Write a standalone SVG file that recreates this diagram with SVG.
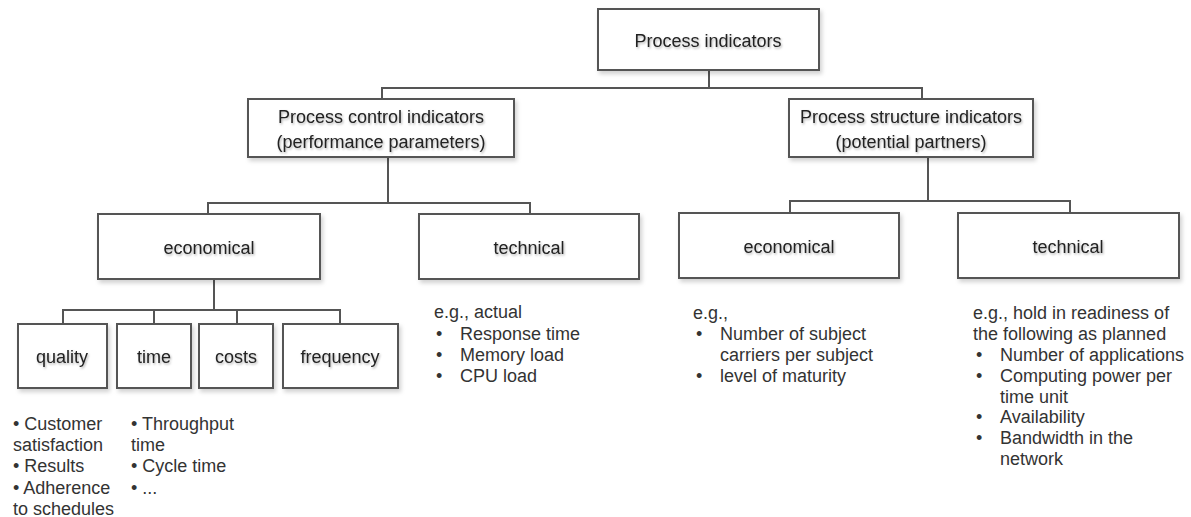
<svg xmlns="http://www.w3.org/2000/svg" width="1191" height="517" viewBox="0 0 1191 517">
  <defs>
    <filter id="boxShadow" x="-10%" y="-10%" width="125%" height="135%">
      <feDropShadow dx="2" dy="3" stdDeviation="2" flood-color="#000" flood-opacity="0.18"/>
    </filter>
    <filter id="textShadow" x="-5%" y="-20%" width="110%" height="150%">
      <feDropShadow dx="1" dy="1.5" stdDeviation="1" flood-color="#000" flood-opacity="0.3"/>
    </filter>
  </defs>
  <style>
    .box { fill: #ffffff; stroke: #555555; stroke-width: 2; filter: url(#boxShadow); }
    .label { font-family: "Liberation Sans", Arial, sans-serif; font-size: 18px; fill: #222222; text-anchor: middle; filter: url(#textShadow); }
    .note { font-family: "Liberation Sans", Arial, sans-serif; font-size: 18px; fill: #333333; }
    .conn { fill: none; stroke: #555555; stroke-width: 2; }
  </style>

  <rect width="1191" height="517" fill="#ffffff"/>

  <!-- connectors -->
  <g id="connectors">
    <!-- root to level 1 -->
    <polyline class="conn" points="709,70 709,88"/>
    <polyline class="conn" points="382,99 382,88 922,88 922,99"/>
    <!-- process control to its children -->
    <polyline class="conn" points="388,157 388,203"/>
    <polyline class="conn" points="208,214 208,203 530,203 530,214"/>
    <!-- process structure to its children -->
    <polyline class="conn" points="928,157 928,201"/>
    <polyline class="conn" points="790,213 790,201 1070,201 1070,213"/>
    <!-- economical to its four categories -->
    <polyline class="conn" points="214,279 214,310"/>
    <polyline class="conn" points="63,324 63,310 340,310 340,324"/>
    <polyline class="conn" points="154,310 154,324"/>
    <polyline class="conn" points="237,310 237,324"/>
  </g>

  <!-- root -->
  <g id="process-indicators">
    <rect class="box" x="598" y="9" width="221" height="61"/>
    <text class="label" x="708" y="47">Process indicators</text>
  </g>

  <!-- level 1 -->
  <g id="process-control">
    <rect class="box" x="248" y="99" width="266" height="58"/>
    <text class="label" x="381" y="123">Process control indicators</text>
    <text class="label" x="381" y="148">(performance parameters)</text>
  </g>
  <g id="process-structure">
    <rect class="box" x="789" y="99" width="244" height="58"/>
    <text class="label" x="911" y="123">Process structure indicators</text>
    <text class="label" x="911" y="148">(potential partners)</text>
  </g>

  <!-- level 2 -->
  <g id="control-economical">
    <rect class="box" x="98" y="214" width="222" height="65"/>
    <text class="label" x="209" y="254">economical</text>
  </g>
  <g id="control-technical">
    <rect class="box" x="419" y="214" width="220" height="65"/>
    <text class="label" x="529" y="254">technical</text>
  </g>
  <g id="structure-economical">
    <rect class="box" x="679" y="213" width="220" height="65"/>
    <text class="label" x="789" y="253">economical</text>
  </g>
  <g id="structure-technical">
    <rect class="box" x="958" y="213" width="221" height="65"/>
    <text class="label" x="1068" y="253">technical</text>
  </g>

  <!-- level 3 -->
  <g id="quality">
    <rect class="box" x="18" y="324" width="89" height="64"/>
    <text class="label" x="62" y="363">quality</text>
  </g>
  <g id="time">
    <rect class="box" x="117" y="324" width="74" height="64"/>
    <text class="label" x="154" y="363">time</text>
  </g>
  <g id="costs">
    <rect class="box" x="199" y="324" width="74" height="64"/>
    <text class="label" x="236" y="363">costs</text>
  </g>
  <g id="frequency">
    <rect class="box" x="283" y="324" width="115" height="64"/>
    <text class="label" x="340" y="363">frequency</text>
  </g>

  <!-- examples -->
  <g id="quality-notes" class="note">
    <text x="13" y="430">• Customer</text>
    <text x="13" y="451">satisfaction</text>
    <text x="13" y="472">• Results</text>
    <text x="13" y="494">• Adherence</text>
    <text x="13" y="515">to schedules</text>
  </g>
  <g id="time-notes" class="note">
    <text x="131" y="430">• Throughput</text>
    <text x="131" y="451">time</text>
    <text x="131" y="472">• Cycle time</text>
    <text x="131" y="494">• ...</text>
  </g>
  <g id="control-technical-notes" class="note">
    <text x="434" y="318">e.g., actual</text>
    <text x="436" y="340">•</text><text x="460" y="340">Response time</text>
    <text x="436" y="361">•</text><text x="460" y="361">Memory load</text>
    <text x="436" y="382">•</text><text x="460" y="382">CPU load</text>
  </g>
  <g id="structure-economical-notes" class="note">
    <text x="693" y="319">e.g.,</text>
    <text x="696" y="340">•</text><text x="720" y="340">Number of subject</text>
    <text x="720" y="361">carriers per subject</text>
    <text x="696" y="382">•</text><text x="720" y="382">level of maturity</text>
  </g>
  <g id="structure-technical-notes" class="note">
    <text x="973" y="319">e.g., hold in readiness of</text>
    <text x="973" y="340">the following as planned</text>
    <text x="976" y="361">•</text><text x="1000" y="361">Number of applications</text>
    <text x="976" y="382">•</text><text x="1000" y="382">Computing power per</text>
    <text x="1000" y="403">time unit</text>
    <text x="976" y="423">•</text><text x="1000" y="423">Availability</text>
    <text x="976" y="444">•</text><text x="1000" y="444">Bandwidth in the</text>
    <text x="1000" y="465">network</text>
  </g>
</svg>
